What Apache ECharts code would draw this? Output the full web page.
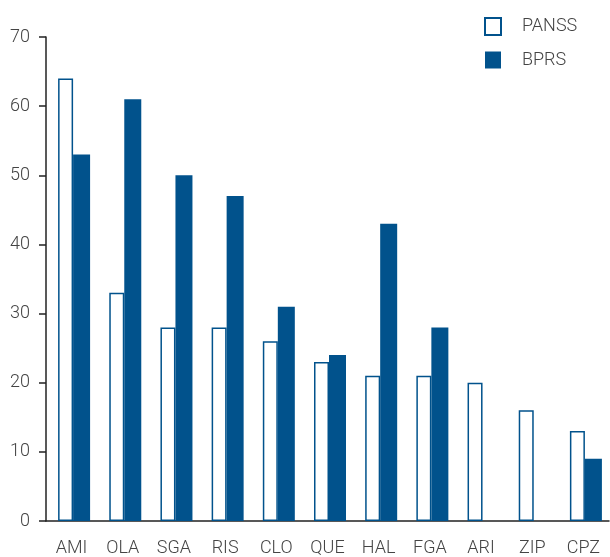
<!DOCTYPE html>
<html><head><meta charset="utf-8">
<script src="https://cdn.jsdelivr.net/npm/echarts@6/dist/echarts.min.js"></script>
<style>html,body{margin:0;padding:0;background:#fff}#c{width:610px;height:557px}</style>
</head><body><div id="c"></div>
<script>
const categories = ['AMI','OLA','SGA','RIS','CLO','QUE','HAL','FGA','ARI','ZIP','CPZ'];
const panss = [64,33,28,28,26,23,21,21,20,16,13];
const bprs = [53,61,50,47,31,24,43,28,null,null,9];
const spacer = categories.map(() => null);
const blue = '#01528c';
const font = 'Roboto';
const chart = echarts.init(document.getElementById('c'));
chart.setOption({
  animation:false,
  textStyle:{fontFamily:font},
  grid:{left:46,right:1,top:37,bottom:36},
  legend:{orient:'vertical',left:479,top:12,itemWidth:16,itemHeight:17,itemGap:15,
    textStyle:{fontSize:18,color:'#444',fontFamily:font,fontWeight:300,padding:[0,0,0,16]},
    data:[{name:'PANSS',icon:'rect',itemStyle:{color:'#fff',borderColor:blue,borderWidth:2}},{name:'BPRS',icon:'rect'}]},
  xAxis:{type:'category',data:categories,
    axisLine:{lineStyle:{color:'#222',width:1.5}},
    axisTick:{length:7,lineStyle:{color:'#222',width:1.5},interval:(i)=>i<=9},
    axisLabel:{fontSize:18,color:'#444',margin:18,fontFamily:font,fontWeight:300}},
  yAxis:{type:'value',min:0,max:70,interval:10,
    splitLine:{show:false},
    axisLine:{show:true,lineStyle:{color:'#222',width:1.5}},
    axisTick:{show:true,length:7,lineStyle:{color:'#222',width:1.5}},
    axisLabel:{fontSize:18,color:'#444',margin:16,fontFamily:font,fontWeight:300}},
  series:[
    {name:'spacer',type:'bar',data:spacer,barWidth:5,barGap:0,silent:true},
    {name:'PANSS',type:'bar',data:panss,barWidth:15,barGap:0,
      itemStyle:{color:'#fff',borderColor:blue,borderWidth:1.5}},
    {name:'BPRS',type:'bar',data:bprs,barWidth:17,barGap:0,
      itemStyle:{color:blue}}
  ]
});
</script></body></html>
